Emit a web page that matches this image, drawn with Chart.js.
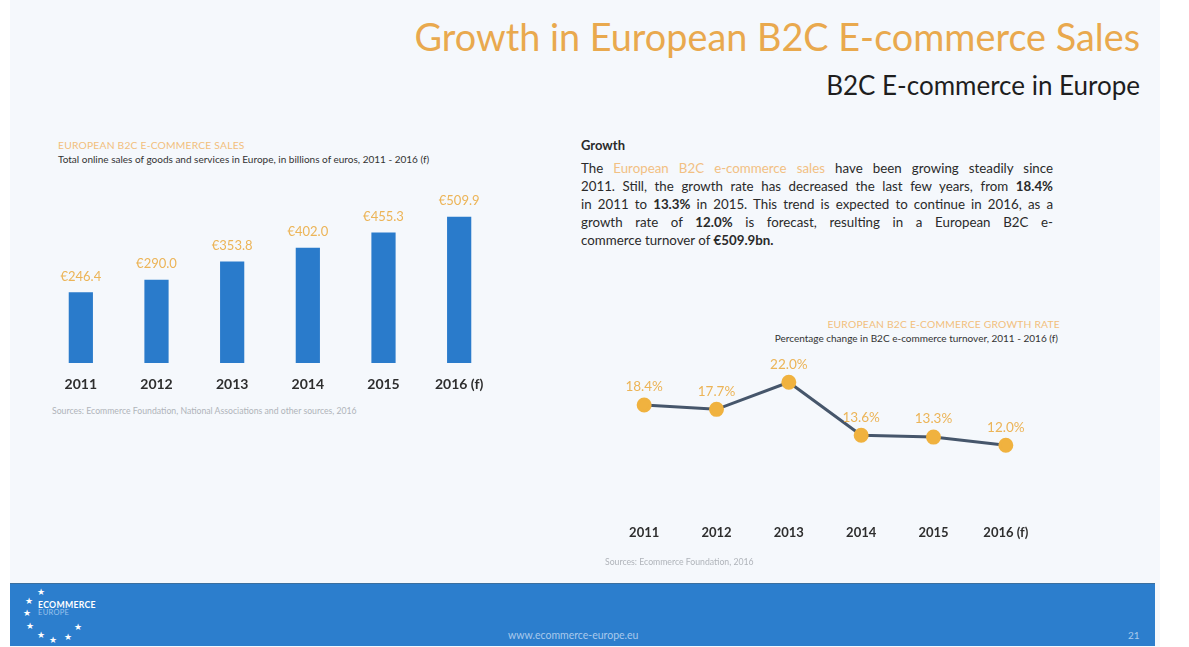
<!DOCTYPE html>
<html>
<head>
<meta charset="utf-8">
<script src="https://cdn.jsdelivr.net/npm/chart.js@4/dist/chart.umd.min.js"></script>
<style>
  html, body { margin: 0; padding: 0; background: #ffffff; }
  body { width: 1189px; height: 647px; position: relative; overflow: hidden; font-family: Lato, "Open Sans", sans-serif; }
  .slide { position: absolute; left: 10px; top: 0; width: 1150px; height: 647px; background: #f5f8fc; }
  .abs { position: absolute; white-space: nowrap; }
  #title { right: 49px; top: 14px; font-size: 37.8px; color: #e9a94e; }
  #subtitle { right: 49px; top: 69px; font-size: 26px; color: #1e1e1e; }
  .small-title { font-size: 10.3px; color: #f2bf7c; letter-spacing: 0.2px; }
  .small-sub { font-size: 10px; color: #333; }
  .source { font-size: 8.7px; color: #b0b4ba; }
  #growthHead { left: 581px; top: 137px; font-size: 13px; font-weight: bold; color: #2a2a2a; }
  #para { position: absolute; left: 581px; top: 159px; width: 472px; font-size: 13.3px; line-height: 18px; color: #2a2a2a; }
  #para div { text-align: justify; text-align-last: justify; white-space: nowrap; }
  #para div.last { text-align-last: left; }
  #para .hl { color: #f2c083; }
  #para b { color: #2a2a2a; }
  #barBox { position: absolute; left: 43px; top: 175px; width: 454px; height: 228px; }
  #lineBox { position: absolute; left: 599px; top: 345px; width: 452px; height: 216px; }
  #footer { position: absolute; left: 10px; top: 583px; width: 1145px; height: 62px; background: #2c7ecd; border-top: 1px solid #3a6f9f; }
  .star { position: absolute; color: #ffffff; font-size: 9px; line-height: 9px; }
  #logo1 { left: 38px; top: 599px; font-size: 8.7px; color: #ffffff; font-weight: bold; letter-spacing: 0.3px; }
  #logo2 { left: 38px; top: 608px; font-size: 7.5px; color: #9cc3ec; letter-spacing: 0.3px; }
  #url { left: 508px; top: 629px; font-size: 10.5px; color: #a9c9ec; }
  #page { left: 1128px; top: 629px; font-size: 10px; color: #a9c9ec; }
</style>
</head>
<body>
<div class="slide"></div>

<div id="title" class="abs">Growth in European B2C E-commerce Sales</div>
<div id="subtitle" class="abs">B2C E-commerce in Europe</div>

<div class="abs small-title" style="left:58px; top:139px;">EUROPEAN B2C E-COMMERCE SALES</div>
<div class="abs small-sub" style="left:58px; top:153px;">Total online sales of goods and services in Europe, in billions of euros, 2011 - 2016 (f)</div>
<div id="barBox"><canvas id="barChart"></canvas></div>
<div class="abs source" style="left:52px; top:405px;">Sources: Ecommerce Foundation, National Associations and other sources, 2016</div>

<div id="growthHead" class="abs">Growth</div>
<div id="para">
  <div>The <span class="hl">European B2C e-commerce sales</span> have been growing steadily since</div>
  <div>2011. Still, the growth rate has decreased the last few years, from <b>18.4%</b></div>
  <div>in 2011 to <b>13.3%</b> in 2015. This trend is expected to continue in 2016, as a</div>
  <div>growth rate of <b>12.0%</b> is forecast, resulting in a European B2C e-</div>
  <div class="last">commerce turnover of <b>€509.9bn.</b></div>
</div>

<div class="abs small-title" style="right:129px; top:318px;">EUROPEAN B2C E-COMMERCE GROWTH RATE</div>
<div class="abs small-sub" style="right:131px; top:332px;">Percentage change in B2C e-commerce turnover, 2011 - 2016 (f)</div>
<div id="lineBox"><canvas id="lineChart"></canvas></div>
<div class="abs source" style="left:605px; top:556px;">Sources: Ecommerce Foundation, 2016</div>

<div id="footer"></div>
<div class="star" style="left:37px; top:587px;">★</div>
<div class="star" style="left:25px; top:596px;">★</div>
<div class="star" style="left:23px; top:608px;">★</div>
<div class="star" style="left:26px; top:621px;">★</div>
<div class="star" style="left:37px; top:630px;">★</div>
<div class="star" style="left:49px; top:635px;">★</div>
<div class="star" style="left:64px; top:632px;">★</div>
<div class="star" style="left:74px; top:622px;">★</div>
<div id="logo1" class="abs">ECOMMERCE</div>
<div id="logo2" class="abs">EUROPE</div>
<div id="url" class="abs">www.ecommerce-europe.eu</div>
<div id="page" class="abs">21</div>

<script>
// Years shown on both charts
const years = ['2011', '2012', '2013', '2014', '2015', '2016 (f)'];
// Total B2C e-commerce sales, billions of euros
const salesBn = [246.4, 290.0, 353.8, 402.0, 455.3, 509.9];
// Year-on-year growth rate, percent
const growthPct = [18.4, 17.7, 22.0, 13.6, 13.3, 12.0];

const ORANGE = '#ecb457';
const BLUE = '#2a7bcb';
const SLATE = '#46566b';

// Draws the value label above each bar / point
function valueLabels(formatter, offset, fontSize) {
  return {
    id: 'valueLabels',
    afterDatasetsDraw(chart) {
      const ctx = chart.ctx;
      const meta = chart.getDatasetMeta(0);
      const data = chart.data.datasets[0].data;
      ctx.save();
      ctx.fillStyle = ORANGE;
      ctx.font = fontSize + 'px Lato, "Open Sans", sans-serif';
      ctx.textAlign = 'center';
      ctx.textBaseline = 'middle';
      meta.data.forEach((el, i) => {
        ctx.fillText(formatter(data[i]), el.x, el.y - offset);
      });
      ctx.restore();
    }
  };
}

Chart.defaults.animation = false;

new Chart(document.getElementById('barChart'), {
  type: 'bar',
  data: {
    labels: years,
    datasets: [{
      data: salesBn,
      backgroundColor: BLUE,
      barPercentage: 0.32,
      categoryPercentage: 1.0
    }]
  },
  options: {
    responsive: true,
    maintainAspectRatio: false,
    layout: { padding: { top: 16, bottom: 0, left: 0, right: 0 } },
    plugins: { legend: { display: false }, tooltip: { enabled: false } },
    scales: {
      x: {
        grid: { display: false },
        border: { display: false },
        ticks: { color: '#2e2e2e', font: { size: 14, weight: 'bold', family: 'Lato' }, padding: 5 },
        afterFit(scale) { scale.height = 40; }
      },
      y: { display: false, min: 0, max: 600 }
    }
  },
  plugins: [valueLabels(v => '€' + v.toFixed(1), 16, 13)]
});

new Chart(document.getElementById('lineChart'), {
  type: 'line',
  data: {
    labels: years,
    datasets: [{
      data: growthPct,
      borderColor: SLATE,
      borderWidth: 3,
      pointBackgroundColor: '#f0b23f',
      pointBorderColor: '#f0b23f',
      pointRadius: 6,
      tension: 0
    }]
  },
  options: {
    responsive: true,
    maintainAspectRatio: false,
    layout: { padding: { top: 12, bottom: 0, left: 0, right: 0 } },
    plugins: { legend: { display: false }, tooltip: { enabled: false } },
    scales: {
      x: {
        offset: true,
        grid: { display: false },
        border: { display: false },
        ticks: { color: '#2e2e2e', font: { size: 13, weight: 'bold', family: 'Lato' }, padding: -4 },
        afterFit(scale) { scale.height = 40; }
      },
      y: { display: false, min: 0, max: 26 }
    }
  },
  plugins: [valueLabels(v => v.toFixed(1) + '%', 18, 13.5)]
});
</script>
</body>
</html>
